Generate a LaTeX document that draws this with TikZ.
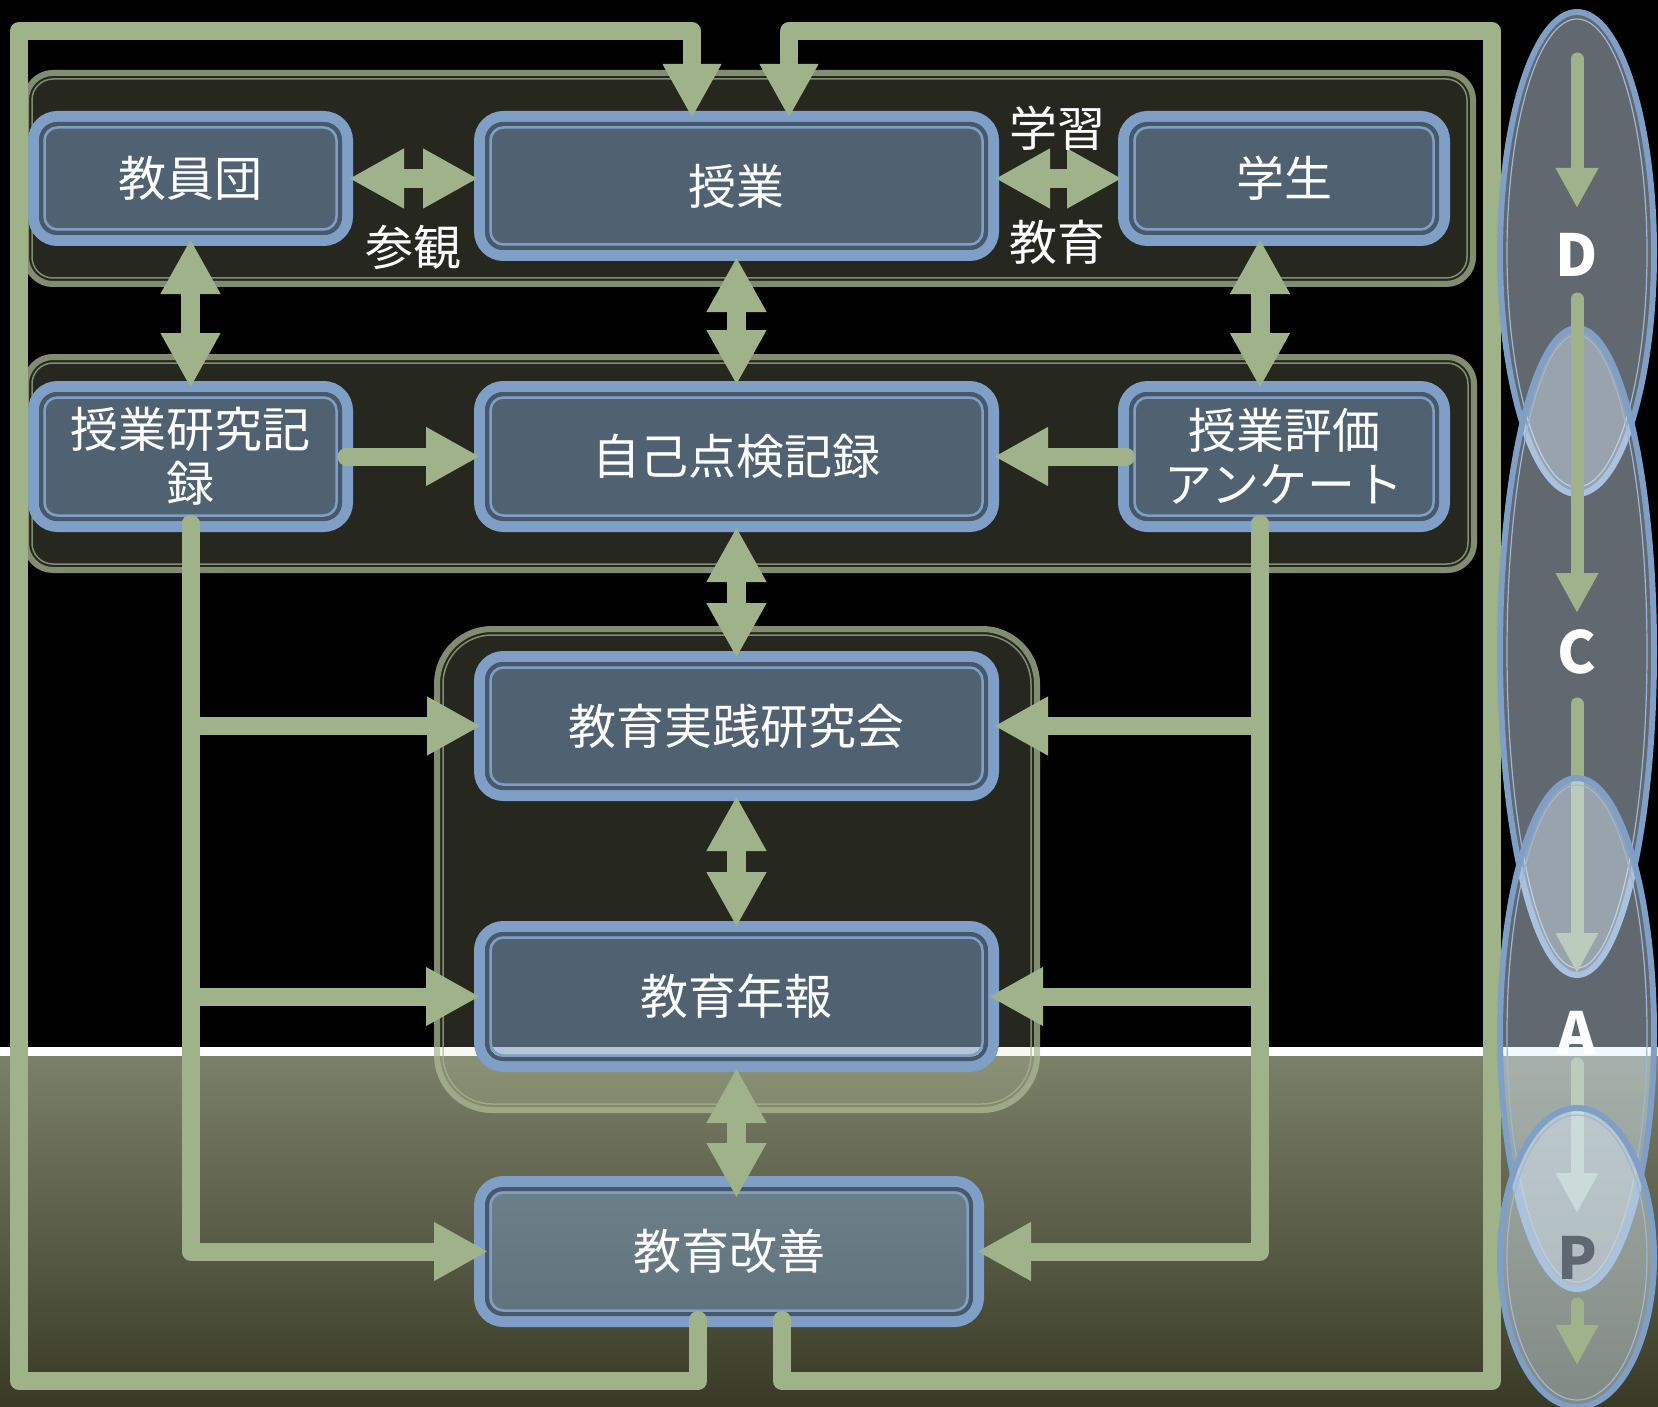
\documentclass[tikz,border=0pt]{standalone}
\usepackage{fontspec}
\setmainfont{Noto Sans CJK JP}
\usetikzlibrary{arrows.meta}
\definecolor{grn}{RGB}{160,178,138}
\definecolor{bblue}{RGB}{127,159,198}
\definecolor{bfill}{RGB}{119,152,190}
\definecolor{bdark}{RGB}{70,88,106}
\definecolor{pbord}{RGB}{169,183,147}
\definecolor{pfill}{RGB}{211,222,178}
\definecolor{efill}{RGB}{223,239,255}
\definecolor{oltop}{RGB}{124,129,106}
\definecolor{olbot}{RGB}{56,58,38}
\definecolor{pgray}{RGB}{95,103,113}
\newcommand\diabox[5]{%
  \node[bx, minimum width=#3pt-11pt, minimum height=#4pt-11pt] (#1) at (#2) {#5};
  \draw[bxdark] ([shift={(13,13)}]#1.north west) rectangle ([shift={(-13,-13)}]#1.south east);
  \draw[bxlight] ([shift={(16.5,16.5)}]#1.north west) rectangle ([shift={(-16.5,-16.5)}]#1.south east);
}
\newcommand\diapanel[5]{%
  \fill[pfill, fill opacity=0.18, rounded corners=#5] (#1,#2) rectangle (#3,#4);
  \draw[pbord, draw opacity=0.7, line width=6, rounded corners=#5-3] (#1+3,#2+3) rectangle (#3-3,#4-3);
  \draw[pbord, draw opacity=0.7, line width=1.5, rounded corners=#5-9] (#1+9,#2+9) rectangle (#3-9,#4-9);
}
\newcommand\diaell[2]{%
  \fill[efill, fill opacity=0.44] (1577,#1) ellipse [x radius=77, y radius=#2-3];
  \draw[bblue, line width=6] (1577,#1) ellipse [x radius=77, y radius=#2-3];
  \draw[bblue!75!white, line width=1.2] (1577,#1) ellipse [x radius=70, y radius=#2-10];
}
\begin{document}
\begin{tikzpicture}[x=1pt,y=-1pt,
  bx/.style={draw=bblue, line width=11, fill=bfill, fill opacity=0.52, draw opacity=1, text opacity=1,
    rounded corners=24, text=white, font=\fontsize{48pt}{54pt}\selectfont, align=center, inner sep=0pt},
  bxdark/.style={draw=bdark, line width=4, rounded corners=16},
  bxlight/.style={draw=bblue, line width=2.5, rounded corners=13},
  con/.style={draw=grn, line width=18, line cap=round, line join=round},
  tipA/.style={arrows={-Triangle[length=54pt,width=55pt]}},
  dbl/.style={draw=grn, line width=19, arrows={Triangle[length=55pt,width=56pt]-Triangle[length=55pt,width=56pt]}},
  lbl/.style={text=white, font=\fontsize{48pt}{54pt}\selectfont, inner sep=0pt},
  pd/.style={draw=grn, line width=13, line cap=round, arrows={-Triangle[length=40pt,width=40pt]}},
  ltr/.style={font=\fontsize{58pt}{60pt}\selectfont\bfseries, inner sep=0pt},
]
\useasboundingbox (0,0) rectangle (1658,1407);
% background
\fill[black] (0,0) rectangle (1658,1051);
\shade[top color=oltop, bottom color=olbot] (0,1051) rectangle (1658,1407);
\draw[white, line width=9] (0,1051) -- (1658,1051);
% panels
\diapanel{23}{70}{1476}{287}{30}
\diapanel{23}{354}{1477}{573}{30}
\diapanel{434}{626}{1040}{1113}{58}
% boxes
\diabox{kyoin}{190.5,178.5}{325}{135}{教員団}
\diabox{jugyo}{736.5,186}{525}{150}{授業}
\diabox{gakusei}{1284,178.5}{332}{135}{学生}
\diabox{kenkyu}{190.5,456.5}{325}{151}{授業研究記\\録}
\diabox{jiko}{736.5,456.5}{525}{151}{自己点検記録}
\diabox{hyoka}{1284,456.5}{332}{151}{授業評価\\アンケート}
\diabox{jissen}{736.5,726}{525}{150}{教育実践研究会}
\diabox{nenpo}{736.5,996.5}{525}{151}{教育年報}
\diabox{kaizen}{729,1251.5}{510}{151}{教育改善}
% double arrows
\draw[dbl, shorten <=-4pt, shorten >=-4pt] (kyoin.east) -- (kyoin.east -| jugyo.west);
\draw[dbl, shorten <=-4pt, shorten >=-4pt] (gakusei.west -| jugyo.east) -- (gakusei.west);
\draw[dbl, shorten <=-7pt, shorten >=-7pt] (kyoin.south) -- (kenkyu.north);
\draw[dbl, shorten <=-4pt, shorten >=-4pt] (jugyo.south) -- (jiko.north);
\draw[dbl, shorten <=-7pt, shorten >=-7pt] ([xshift=-24pt]gakusei.south) -- ([xshift=-24pt]hyoka.north);
\draw[dbl, shorten <=-5pt, shorten >=-7pt] (jiko.south) -- (jissen.north);
\draw[dbl, shorten <=-5pt, shorten >=-6pt] (jissen.south) -- (nenpo.north);
\draw[dbl, shorten <=-4pt, shorten >=-22pt] (nenpo.south) -- (nenpo.south |- kaizen.north);
% single arrows
\draw[con, tipA, shorten <=-6.5pt, shorten >=-6pt] (kenkyu.east) -- (jiko.west);
\draw[con, tipA, shorten <=-8pt, shorten >=-5pt] (hyoka.west) -- (jiko.east);
\draw[con, tipA, shorten <=-8pt, shorten >=-7pt] (kenkyu.south) |- (jissen.west);
\draw[con, tipA, shorten <=-8pt, shorten >=-6pt] (kenkyu.south) |- (nenpo.west);
\draw[con, tipA, shorten <=-8pt, shorten >=-14pt] (kenkyu.south) |- (kaizen.west);
\coordinate (rtop) at ([xshift=-24pt]hyoka.south);
\draw[con, tipA, shorten <=-8pt, shorten >=-5pt] (rtop) |- (jissen.east);
\draw[con, tipA, shorten <=-8pt, shorten >=-10pt] (rtop) |- (nenpo.east);
\draw[con, tipA, shorten <=-8pt, shorten >=-7pt] (rtop) |- (kaizen.east);
% feedback loops
\coordinate (bl) at (19,1381);
\coordinate (tl) at (19,31);
\coordinate (br) at (1492,1381);
\coordinate (tr) at (1492,31);
\draw[con, tipA, shorten >=-7pt] ([shift={(-31,-7)}]kaizen.south) |- (bl) -- (tl) -| ([xshift=-44.5pt]jugyo.north);
\draw[con, tipA, shorten >=-7pt] ([shift={(53,-7)}]kaizen.south) |- (br) -- (tr) -| ([xshift=52.5pt]jugyo.north);
% labels
\node[lbl] (sankan) at (413,247) {参観};
\node[lbl] (gakushu) at (1057,128) {学習};
\node[lbl] (kyoikuL) at (1057,242) {教育};
% PDCA column
\diaell{253}{244}
\diaell{651.5}{326.5}
\draw[pd] (1577,59) -- (1577,208);
\draw[pd] (1577,299) -- (1577,613);
\draw[pd] (1577,704) -- (1577,973);
\draw[pd] (1577,1064) -- (1577,1213);
\diaell{1033.5}{258.5}
\diaell{1257.5}{152.5}
\draw[pd] (1577,1304) -- (1577,1365);
\node[ltr, text=white] (lD) at (1577,255) {D};
\node[ltr, text=white] (lC) at (1577,652) {C};
\node[ltr, text=white] (lA) at (1577,1033) {A};
\node[ltr, text=pgray] (lP) at (1577,1258) {P};
\end{tikzpicture}
\end{document}
